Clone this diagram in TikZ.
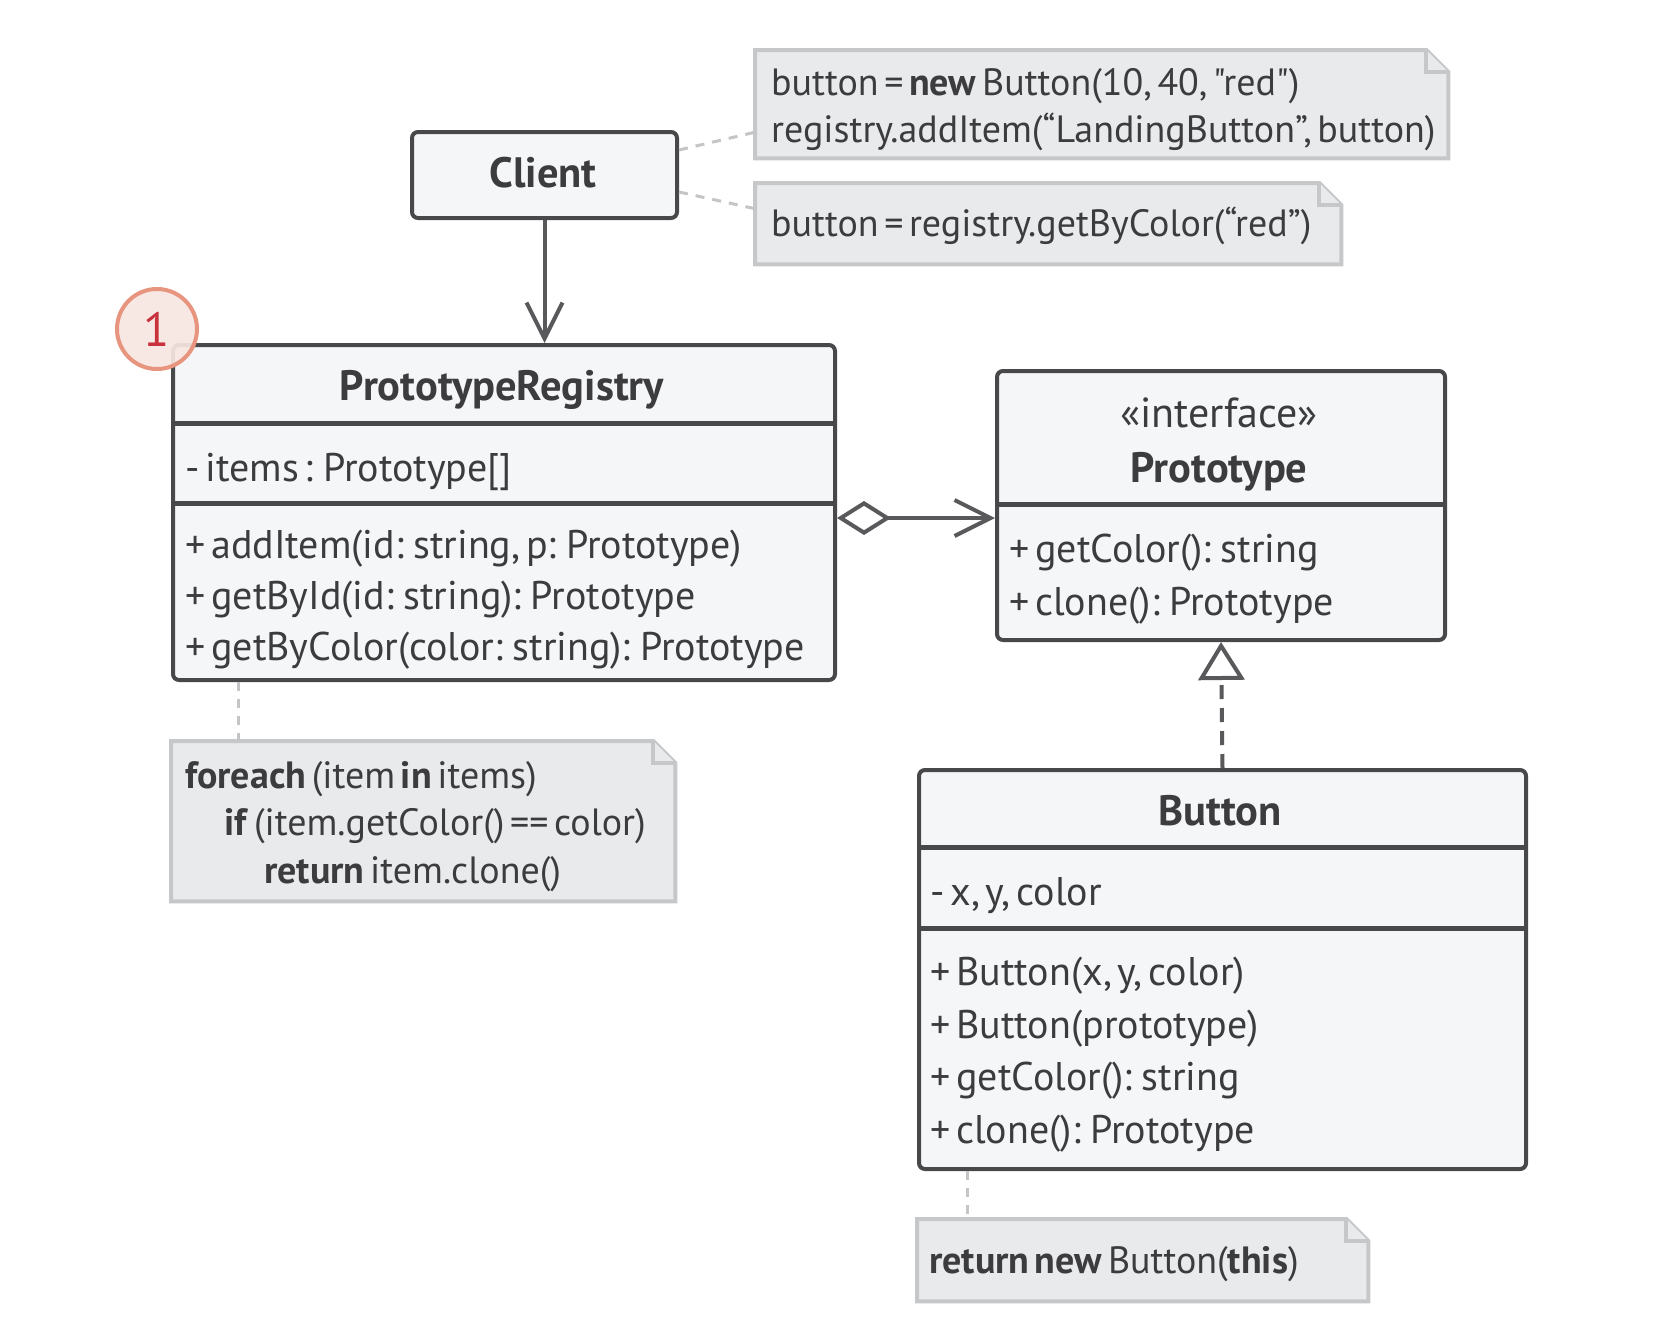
\documentclass[tikz,border=0pt]{standalone}
\usepackage{fontspec}
\setmainfont{PT Sans}[Ligatures=TeXOff, WordSpace=0.75]
\newfontfamily\notefont{PT Sans}[Ligatures=TeXOff, WordSpace=0.55]
\usetikzlibrary{arrows.meta,calc}
\definecolor{txt}{HTML}{3C3C3E}
\definecolor{boxline}{HTML}{48484A}
\definecolor{boxfill}{HTML}{F5F6F8}
\definecolor{notefill}{HTML}{E9EAEC}
\definecolor{notebd}{HTML}{C6C7C9}
\definecolor{hintc}{HTML}{C4C5C7}
\definecolor{connc}{HTML}{59595B}
\definecolor{badgefill}{HTML}{F8E7E2}
\definecolor{badgeline}{HTML}{E8957F}
\definecolor{badgetxt}{HTML}{C8323C}
\tikzset{
  box/.style={draw=boxline, fill=boxfill, line width=4pt, rounded corners=6pt, inner sep=0pt, anchor=north west},
  sepline/.style={draw=boxline, line width=5pt},
  mtxt/.style={text=txt, inner sep=0pt, anchor=base west, font=\fontsize{40}{46}\selectfont},
  ctxt/.style={text=txt, inner sep=0pt, anchor=base, font=\fontsize{42}{48}\selectfont},
  btxt/.style={text=txt, inner sep=0pt, anchor=base, font=\fontsize{42.5}{48}\selectfont\bfseries},
  ntxt/.style={text=txt, inner sep=0pt, anchor=base west, font=\notefont\fontsize{38}{44}\selectfont},
  noteframe/.style={inner sep=0pt, anchor=north west},
  noteline/.style={draw=notebd, fill=notefill, line width=4pt, line join=miter},
  hint/.style={draw=hintc, line width=3pt, dash pattern=on 9pt off 8pt},
  conn/.style={draw=connc, line width=4pt},
}
\newcommand\dogear[1]{%
  \draw[noteline] (#1.north west) -- ([xshift=-22pt]#1.north east) -- ([yshift=-22pt]#1.north east) -- (#1.south east) -- (#1.south west) -- cycle;
  \draw[noteline] ([xshift=-22pt]#1.north east) -- ([xshift=-22pt,yshift=-22pt]#1.north east) -- ([yshift=-22pt]#1.north east);
}
\begin{document}
\begin{tikzpicture}[x=1pt,y=-1pt]
\useasboundingbox[fill=white] (0,0) rectangle (1660,1341);

% ---- notes (frames) ----
\node[noteframe, minimum width=693pt, minimum height=108pt] (note1) at (755,50) {};
\dogear{note1}
\node[noteframe, minimum width=586pt, minimum height=81pt] (note2) at (755,183) {};
\dogear{note2}
\node[noteframe, minimum width=504pt, minimum height=160pt] (fe) at (171,741) {};
\dogear{fe}
\node[noteframe, minimum width=451pt, minimum height=82pt] (ret) at (917,1219) {};
\dogear{ret}

\node[ntxt] (n1a) at (771,95) {button = \textbf{new} Button(10, 40, "red")};
\node[ntxt] (n1b) at (771,142) {registry.addItem(“LandingButton”, button)};
\node[ntxt] (n2a) at (771,236) {button = registry.getByColor(“red”)};
\node[ntxt] (fea) at (185,788) {\textbf{foreach} (item \textbf{in} items)};
\node[ntxt] (feb) at (224,835) {\textbf{if} (item.getColor() == color)};
\node[ntxt] (fec) at (264,883) {\textbf{return} item.clone()};
\node[ntxt] (reta) at (929,1273) {\textbf{return new} Button(\textbf{this})};

% ---- boxes ----
\node[box, minimum width=265pt, minimum height=86pt] (client) at (410,130) {};
\node[btxt] (clientt) at (543,187) {Client};

\node[box, minimum width=662pt, minimum height=335pt] (pr) at (171,343) {};
\coordinate (prs1) at (0,423);
\coordinate (prs2) at (0,503);
\draw[sepline] (pr.west |- prs1) -- (pr.east |- prs1);
\draw[sepline] (pr.west |- prs2) -- (pr.east |- prs2);
\node[btxt] (prt) at (502,400) {PrototypeRegistry};
\node[mtxt] (pra) at (185,481) {- items : Prototype[]};
\node[mtxt] (prm1) at (185,558) {+ addItem(id: string, p: Prototype)};
\node[mtxt] (prm2) at (185,609) {+ getById(id: string): Prototype};
\node[mtxt] (prm3) at (185,660) {+ getByColor(color: string): Prototype};

\node[box, minimum width=448pt, minimum height=269pt] (proto) at (995,369) {};
\coordinate (ps1) at (0,504);
\draw[sepline] (proto.west |- ps1) -- (proto.east |- ps1);
\node[ctxt] (protos) at (1219,427) {«interface»};
\node[btxt] (protot) at (1219,482) {Prototype};
\node[mtxt] (protom1) at (1009,562) {+ getColor(): string};
\node[mtxt] (protom2) at (1009,615) {+ clone(): Prototype};

\node[box, minimum width=607pt, minimum height=399pt] (button) at (917,768) {};
\coordinate (bs1) at (0,847);
\coordinate (bs2) at (0,928);
\draw[sepline] (button.west |- bs1) -- (button.east |- bs1);
\draw[sepline] (button.west |- bs2) -- (button.east |- bs2);
\node[btxt] (buttont) at (1220,825) {Button};
\node[mtxt] (buttona) at (930,905) {- x, y, color};
\node[mtxt] (buttonm1) at (930,985) {+ Button(x, y, color)};
\node[mtxt] (buttonm2) at (930,1038) {+ Button(prototype)};
\node[mtxt] (buttonm3) at (930,1090) {+ getColor(): string};
\node[mtxt] (buttonm4) at (930,1143) {+ clone(): Prototype};

% ---- badge ----
\node[circle, draw=badgeline, fill=badgefill, fill opacity=0.92, text opacity=1, line width=4pt, minimum size=80pt, inner sep=0pt, text=badgetxt, font=\fontsize{48}{48}\selectfont] (badge) at (157,329) {1};

% ---- connectors ----
\draw[conn, -{Straight Barb[length=36pt,width=36pt,line width=4pt]}] (client.south) -- (client.south |- pr.north);
\coordinate (aggy) at (0,518);
\draw[conn, {Diamond[length=54pt,width=34pt,fill=white,line width=4pt]}-{Straight Barb[length=36pt,width=36pt,line width=4pt]}] (pr.east |- aggy) -- (proto.west |- aggy);
\draw[conn, dash pattern=on 14pt off 9pt, -{Triangle[open,length=38pt,width=46pt,line width=4pt]}] (button.north) -- (proto.south);

% ---- note hints ----
\draw[hint] ([yshift=25pt]client.east) -- ([yshift=-28pt]note1.west);
\draw[hint] ([yshift=-17pt]client.east) -- ([yshift=15pt]note2.west);
\coordinate (hx1) at (238,0);
\coordinate (hx2) at (967,0);
\draw[hint] (pr.south -| hx1) -- (fe.north -| hx1);
\draw[hint] (button.south -| hx2) -- (ret.north -| hx2);
\end{tikzpicture}
\end{document}
